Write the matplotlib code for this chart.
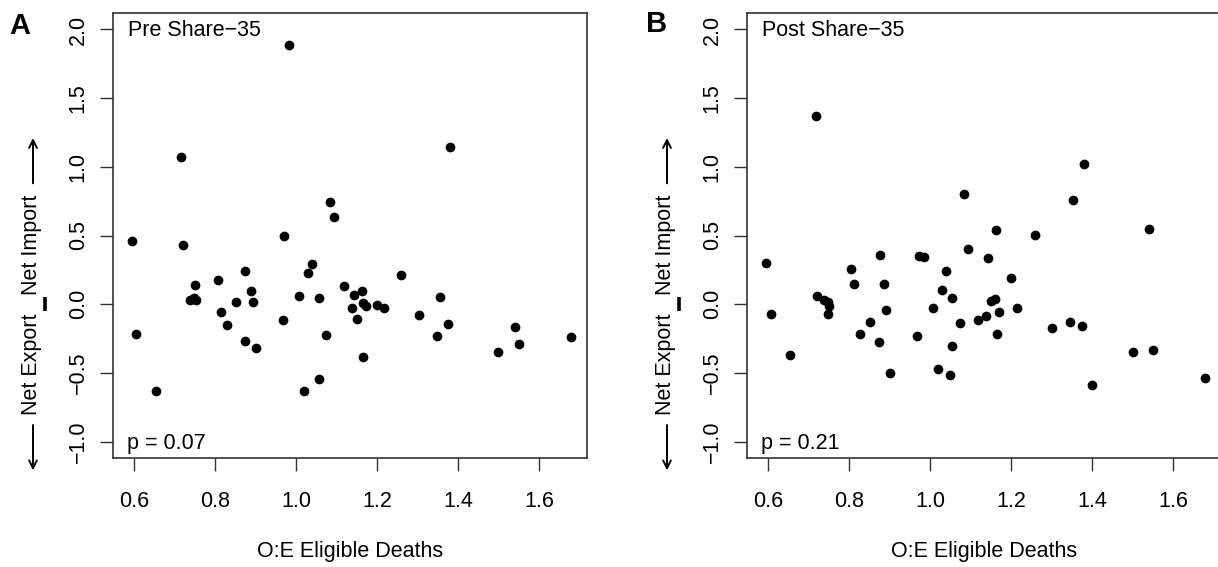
import numpy as np
import matplotlib
matplotlib.use('Agg')
import matplotlib.pyplot as plt

plt.rcParams['font.family'] = ['Liberation Sans', 'DejaVu Sans']

# Pre Share-35: O:E eligible deaths vs net import/export
pre_x = [0.983, 0.716, 1.381, 1.083, 1.093, 0.969, 0.594, 0.721, 1.039, 1.029,
         0.875, 1.258, 0.807, 0.750, 1.118, 0.888, 1.163, 1.143, 0.738, 0.748,
         0.752, 0.893, 0.852, 1.007, 1.056, 1.164, 1.172, 1.199, 1.217, 1.138,
         1.150, 1.354, 1.304, 1.375, 1.347, 1.540, 1.551, 1.499, 1.678, 0.814,
         0.830, 0.874, 0.901, 0.967, 1.074, 1.164, 1.056, 1.019, 0.653, 0.606]
pre_y = [1.884, 1.072, 1.145, 0.746, 0.633, 0.500, 0.459, 0.432, 0.295, 0.227,
         0.242, 0.216, 0.175, 0.139, 0.129, 0.096, 0.094, 0.069, 0.034, 0.044,
         0.028, 0.015, 0.018, 0.060, 0.048, 0.012, -0.012, -0.004, -0.026, -0.028,
         -0.110, 0.049, -0.076, -0.142, -0.232, -0.164, -0.289, -0.349, -0.241, -0.060,
         -0.150, -0.268, -0.318, -0.117, -0.224, -0.381, -0.545, -0.631, -0.631, -0.217]

# Post Share-35
post_x = [0.718, 1.380, 1.083, 1.353, 1.540, 1.163, 1.259, 1.094, 0.594, 0.876,
          0.972, 0.984, 1.143, 0.805, 1.040, 1.199, 0.813, 0.887, 1.030, 1.055,
          0.721, 0.737, 0.747, 0.750, 0.748, 1.007, 0.891, 0.851, 0.828, 0.874,
          0.967, 1.074, 1.055, 0.901, 1.019, 1.049, 1.119, 1.137, 1.150, 1.160,
          1.170, 1.164, 1.215, 1.302, 1.345, 1.374, 1.500, 1.551, 1.399, 1.678,
          0.654, 0.607]
post_y = [1.368, 1.024, 0.804, 0.760, 0.550, 0.542, 0.504, 0.404, 0.300, 0.358,
          0.349, 0.344, 0.335, 0.256, 0.242, 0.193, 0.150, 0.145, 0.104, 0.045,
          0.058, 0.031, 0.017, -0.012, -0.075, -0.031, -0.041, -0.127, -0.217, -0.275,
          -0.232, -0.135, -0.307, -0.502, -0.471, -0.519, -0.118, -0.087, 0.020, 0.041,
          -0.056, -0.220, -0.031, -0.170, -0.128, -0.158, -0.348, -0.336, -0.585, -0.541,
          -0.367, -0.069]

panels = [('A', 'Pre Share\u221235', 'p = 0.07', pre_x, pre_y),
          ('B', 'Post Share\u221235', 'p = 0.21', post_x, post_y)]

xticks = [0.6, 0.8, 1.0, 1.2, 1.4, 1.6]
yticks = [-1.0, -0.5, 0.0, 0.5, 1.0, 1.5, 2.0]

W, H = 1218, 567
fig = plt.figure(figsize=(W / 100, H / 100), dpi=100)

box_left = [113, 747]
box_w, box_top, box_bot = 474, 13, 458
letter_pos = [(20, 26), (657, 24)]
fs = 15.5
edge = '#333333'

for i, (letter, title, ptxt, xs, ys) in enumerate(panels):
    ax = fig.add_axes([box_left[i] / W, (H - box_bot) / H, box_w / W, (box_bot - box_top) / H])
    ax.plot(xs, ys, 'o', ms=7.0, color='black', mec='none', clip_on=False)
    ax.set_xlim(0.548, 1.718)
    ax.set_ylim(-1.12, 2.12)
    ax.set_xticks(xticks)
    ax.set_xticklabels(['%.1f' % v for v in xticks])
    ax.set_yticks(yticks)
    ax.set_yticklabels([('%.1f' % v).replace('-', '\u2212') for v in yticks],
                       rotation=90, va='center', ha='right')
    ax.tick_params(direction='out', length=9.5, width=1.0, color=edge,
                   labelsize=fs)
    ax.tick_params(axis='x', pad=14)
    ax.tick_params(axis='y', pad=8)
    for s in ax.spines.values():
        s.set_linewidth(1.2)
        s.set_color(edge)

    ax.set_xlabel('O:E Eligible Deaths', fontsize=fs, va='center')
    ax.xaxis.set_label_coords(0.5, (box_bot - 552) / (box_bot - box_top))

    ax.text(0.032, 0.96, title, transform=ax.transAxes, fontsize=fs,
            ha='left', va='center')
    ax.text(0.0295, -1.058, ptxt, transform=ax.get_yaxis_transform(),
            fontsize=fs, ha='left', va='baseline')

    # composite y label: arrow, Net Import | Net Export, arrow
    tr = ax.get_yaxis_transform()
    xl = (32 - 113) / box_w
    ax.text(xl, 0.07, 'Net Import', transform=tr, rotation=90, fontsize=fs,
            ha='center', va='bottom', clip_on=False)
    ax.text(xl, -0.07, 'Net Export', transform=tr, rotation=90, fontsize=fs,
            ha='center', va='top', clip_on=False)
    xb = (45 - 113) / box_w
    ax.plot([xb, xb], [-0.05, 0.05], transform=tr, color='black', lw=2.6,
            clip_on=False, solid_capstyle='butt')
    xa = (33 - 113) / box_w
    for y0, y1 in [(0.88, 1.21), (-0.88, -1.21)]:
        ax.annotate('', xy=(xa, y1), xytext=(xa, y0), xycoords=tr, textcoords=tr,
                    annotation_clip=False,
                    arrowprops=dict(arrowstyle='->', lw=1.4, color='black',
                                    shrinkA=0, shrinkB=0, mutation_scale=14))

    lx, ly = letter_pos[i]
    fig.text(lx / W, 1 - ly / H, letter, fontsize=21, fontweight='bold',
             ha='center', va='center')

fig.savefig('out.png', dpi=100)
